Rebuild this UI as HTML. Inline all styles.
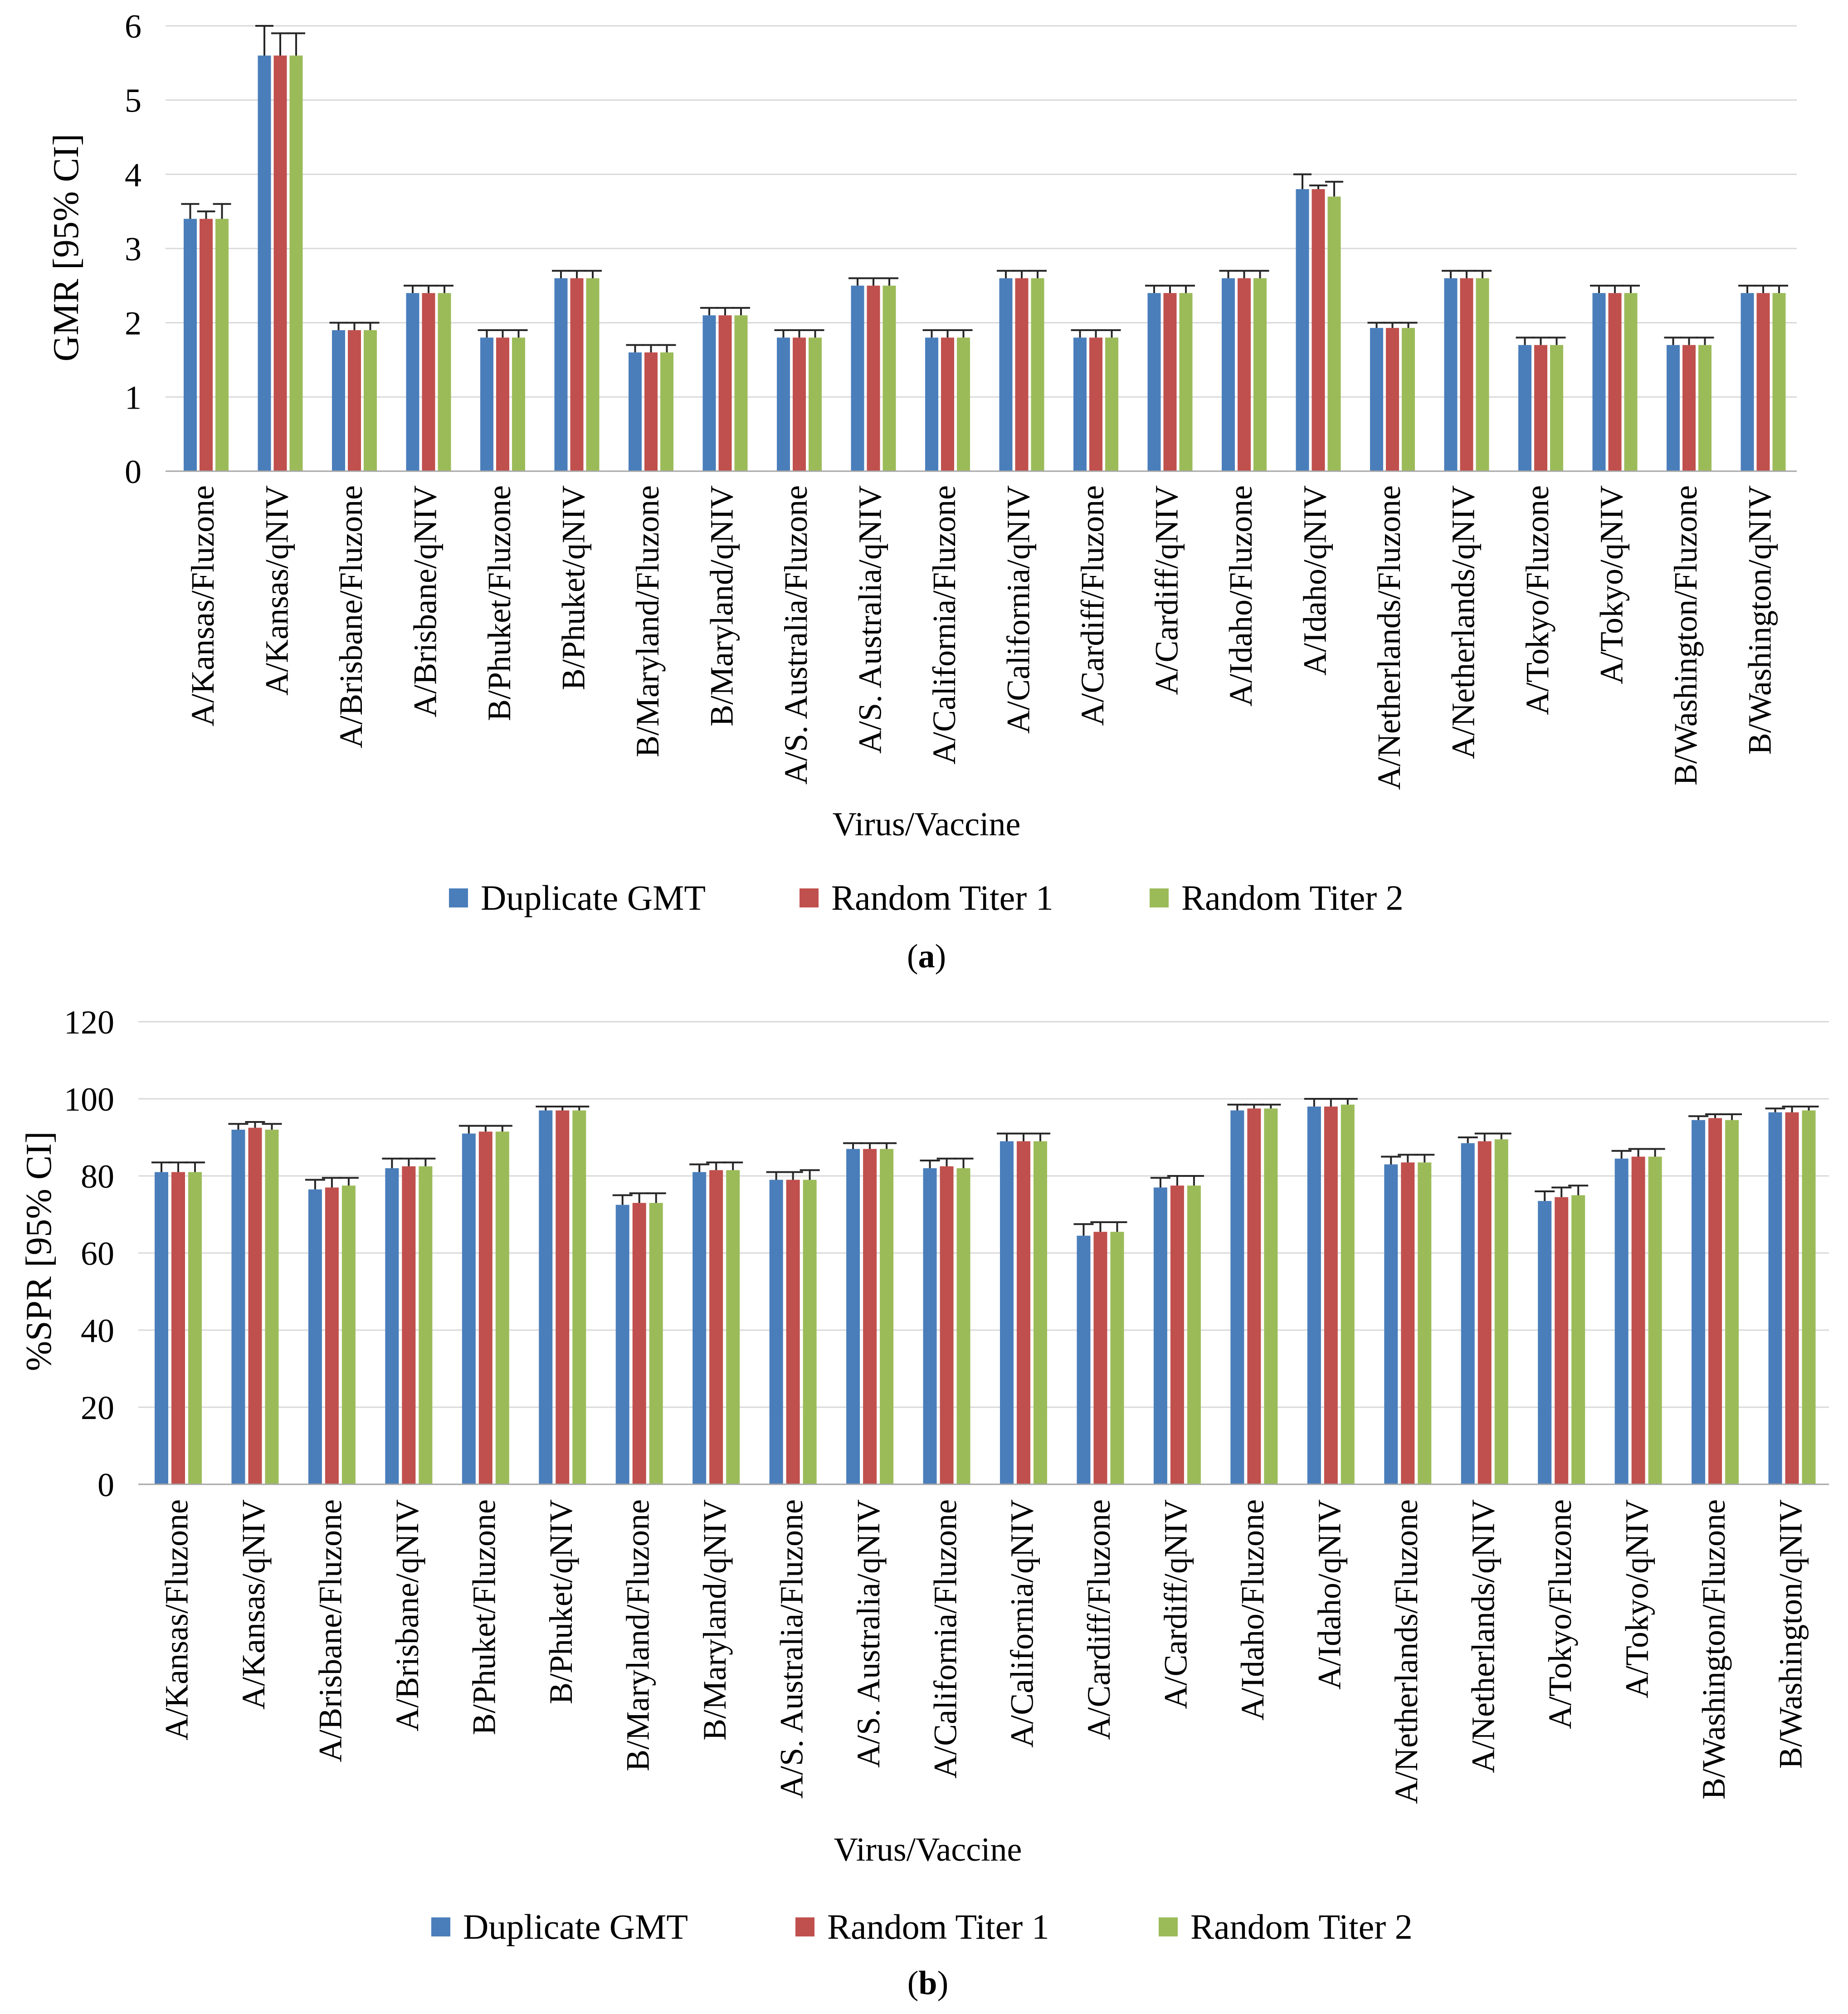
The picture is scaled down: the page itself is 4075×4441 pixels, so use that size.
<!DOCTYPE html>
<html><head><meta charset="utf-8">
<style>
html,body{margin:0;padding:0;background:#fff;}
svg{display:block;font-family:"Liberation Serif","Times New Roman",serif;}
</style></head>
<body>
<svg id="fig" width="4075" height="4441" viewBox="0 0 4075 4441" xmlns="http://www.w3.org/2000/svg"></svg>
<script>
const categories = ["A/Kansas/Fluzone","A/Kansas/qNIV","A/Brisbane/Fluzone","A/Brisbane/qNIV","B/Phuket/Fluzone","B/Phuket/qNIV","B/Maryland/Fluzone","B/Maryland/qNIV","A/S. Australia/Fluzone","A/S. Australia/qNIV","A/California/Fluzone","A/California/qNIV","A/Cardiff/Fluzone","A/Cardiff/qNIV","A/Idaho/Fluzone","A/Idaho/qNIV","A/Netherlands/Fluzone","A/Netherlands/qNIV","A/Tokyo/Fluzone","A/Tokyo/qNIV","B/Washington/Fluzone","B/Washington/qNIV"];
const seriesNames = ["Duplicate GMT","Random Titer 1","Random Titer 2"];
const gmrDup = [3.4,5.6,1.9,2.4,1.8,2.6,1.6,2.1,1.8,2.5,1.8,2.6,1.8,2.4,2.6,3.8,1.93,2.6,1.7,2.4,1.7,2.4];
const gmrR1  = [3.4,5.6,1.9,2.4,1.8,2.6,1.6,2.1,1.8,2.5,1.8,2.6,1.8,2.4,2.6,3.8,1.93,2.6,1.7,2.4,1.7,2.4];
const gmrR2  = [3.4,5.6,1.9,2.4,1.8,2.6,1.6,2.1,1.8,2.5,1.8,2.6,1.8,2.4,2.6,3.7,1.93,2.6,1.7,2.4,1.7,2.4];
const gmrDupUp = [3.6,6.0,2.0,2.5,1.9,2.7,1.7,2.2,1.9,2.6,1.9,2.7,1.9,2.5,2.7,4.0,2.0,2.7,1.8,2.5,1.8,2.5];
const gmrR1Up  = [3.5,5.9,2.0,2.5,1.9,2.7,1.7,2.2,1.9,2.6,1.9,2.7,1.9,2.5,2.7,3.85,2.0,2.7,1.8,2.5,1.8,2.5];
const gmrR2Up  = [3.6,5.9,2.0,2.5,1.9,2.7,1.7,2.2,1.9,2.6,1.9,2.7,1.9,2.5,2.7,3.9,2.0,2.7,1.8,2.5,1.8,2.5];
const gmrTicks = [0,1,2,3,4,5,6];
const sprDup = [81,92,76.5,82,91,97,72.5,81,79,87,82,89,64.5,77,97,98,83,88.5,73.5,84.5,94.5,96.5];
const sprR1  = [81,92.5,77,82.5,91.5,97,73,81.5,79,87,82.5,89,65.5,77.5,97.5,98,83.5,89,74.5,85,95,96.5];
const sprR2  = [81,92,77.5,82.5,91.5,97,73,81.5,79,87,82,89,65.5,77.5,97.5,98.5,83.5,89.5,75,85,94.5,97];
const sprDupUp = [83.5,93.5,79,84.5,93,98,75,83,81,88.5,84,91,67.5,79.5,98.5,100,85,90,76,86.5,95.5,97.5];
const sprR1Up  = [83.5,94,79.5,84.5,93,98,75.5,83.5,81,88.5,84.5,91,68,80,98.5,100,85.5,91,77,87,96,98];
const sprR2Up  = [83.5,93.5,79.5,84.5,93,98,75.5,83.5,81.5,88.5,84.5,91,68,80,98.5,100,85.5,91,77.5,87,96,98];
const sprTicks = [0,20,40,60,80,100,120];

const colors = ["#4a7ebb","#c0504d","#9bbb59"];
const NS = "http://www.w3.org/2000/svg";
const svg = document.getElementById("fig");
function mk(tag, attrs, parent, text){
  const e = document.createElementNS(NS, tag);
  for (const k in attrs) e.setAttribute(k, attrs[k]);
  if (text !== undefined) e.textContent = text;
  (parent||svg).appendChild(e);
  return e;
}

function drawChart(cfg){
  const g = mk("g", {});
  
  
  const yMax = cfg.ticks[cfg.ticks.length-1];
  const y = v => cfg.y0 - (v / yMax) * (cfg.y0 - cfg.yTop);
  const pitch = (cfg.right - cfg.left) / categories.length;
  const x = i => cfg.left + i * pitch;
  cfg.ticks.forEach(t => {
    if (t > 0) {
      const gl = mk("line", {x1:cfg.left, x2:cfg.right, y1:y(t), y2:y(t), stroke:"#d9d9d9", "stroke-width":3}, g);
      
      
    }
    const tl = mk("text", {x:cfg.tickX, y:y(t)+26, "text-anchor":"end", "font-size":74, fill:"#000"}, g, String(t));
    
    
  });
  const series = [cfg.v1, cfg.v2, cfg.v3];
  const ups = [cfg.u1, cfg.u2, cfg.u3];
  categories.forEach((c, i) => {
    for (let s = 0; s < 3; s++) {
      const bx = x(i) + cfg.barOff + s * cfg.step;
      const r = mk("rect", {x:bx, y:y(series[s][i]), width:cfg.barW, height:cfg.y0 - y(series[s][i]), fill:colors[s]}, g);
      
      
      const cx = bx + cfg.barW/2;
      const eb = mk("path", {d:`M${cx},${y(series[s][i])} V${y(ups[s][i])} M${cx-cfg.capW/2},${y(ups[s][i])} H${cx+cfg.capW/2}`, stroke:"#262626", "stroke-width":4, fill:"none"}, g);
      
      
    }
    const lx = x(i) + pitch/2 + 24;
    const lab = mk("text", {x:0, y:0, transform:`translate(${lx},${cfg.labelTop}) rotate(-90)`, "text-anchor":"end", "font-size":72, fill:"#000"}, g, c);
    
    
  });
  const ax = mk("line", {x1:cfg.left, x2:cfg.right, y1:cfg.y0, y2:cfg.y0, stroke:"#a6a6a6", "stroke-width":3}, g);
  
  
  const yt = mk("text", {x:0, y:0, transform:`translate(${cfg.yTitleX},${cfg.yTitleY}) rotate(-90)`, "text-anchor":"middle", "font-size":80, fill:"#000"}, g, cfg.yTitle);
  
  
  const xt = mk("text", {x:cfg.xTitleX, y:cfg.xTitleY, "text-anchor":"middle", "font-size":74, fill:"#000"}, g, "Virus/Vaccine");
  
  
  cfg.legend.forEach((lx, s) => {
    const sq = mk("rect", {x:lx, y:cfg.legendY-22, width:42, height:42, fill:colors[s]}, g);
    
    
    const lt = mk("text", {x:lx+70, y:cfg.legendY+25, "font-size":78, fill:"#000"}, g, seriesNames[s]);
    
    
  });
  const cap = mk("text", {x:cfg.xTitleX, y:cfg.capY, "text-anchor":"middle", "font-size":74, fill:"#000"}, g);
  
  
  mk("tspan", {}, cap, "(");
  mk("tspan", {"font-weight":"bold"}, cap, cfg.cap);
  mk("tspan", {}, cap, ")");
}

drawChart({name:"gmr-chart", y0:1039, yTop:57, ticks:gmrTicks, left:365, right:3962,
  barOff:40, barW:29, step:35, capW:40, tickX:312, labelTop:1070,
  v1:gmrDup, v2:gmrR1, v3:gmrR2, u1:gmrDupUp, u2:gmrR1Up, u3:gmrR2Up,
  yTitle:"GMR [95% CI]", yTitleX:172, yTitleY:546, xTitleX:2043, xTitleY:1842,
  legend:[990,1763,2535], legendY:1981, cap:"a", capY:2133});
drawChart({name:"spr-chart", y0:3273, yTop:2253, ticks:sprTicks, left:305, right:4033,
  barOff:36, barW:30, step:37, capW:44, tickX:252, labelTop:3306,
  v1:sprDup, v2:sprR1, v3:sprR2, u1:sprDupUp, u2:sprR1Up, u3:sprR2Up,
  yTitle:"%SPR [95% CI]", yTitleX:112, yTitleY:2759, xTitleX:2046, xTitleY:4103,
  legend:[951,1754,2555], legendY:4250, cap:"b", capY:4397});
</script>
</body></html>
